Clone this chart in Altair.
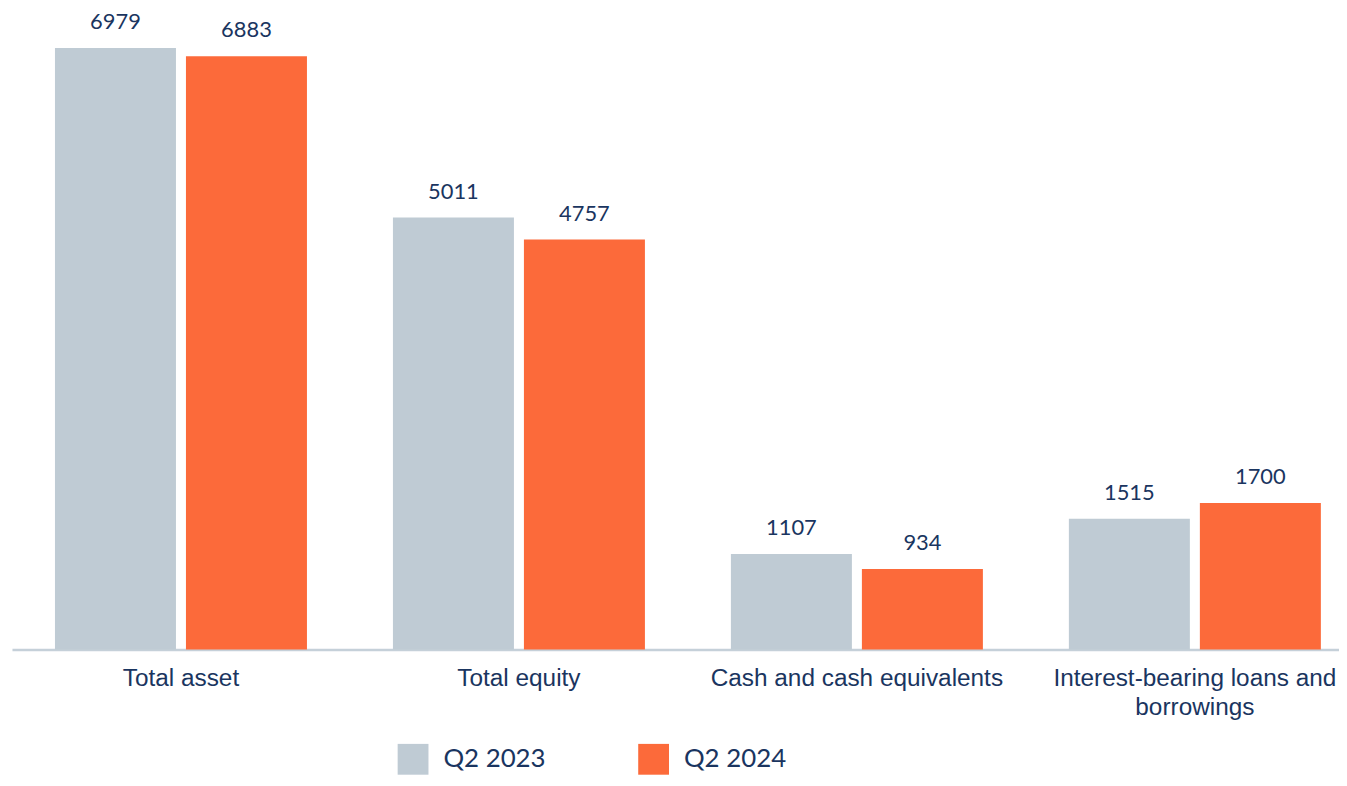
import altair as alt
import pandas as pd

categories = ["Total asset", "Total equity", "Cash and cash equivalents",
              "Interest-bearing loans and borrowings"]
series = ["Q2 2023", "Q2 2024"]
q2_2023 = [6979, 5011, 1107, 1515]
q2_2024 = [6883, 4757, 934, 1700]
colors = ["#BFCBD4", "#FC6A3A"]

rows = []
for c, a, b in zip(categories, q2_2023, q2_2024):
    rows.append({"category": c, "period": series[0], "value": a})
    rows.append({"category": c, "period": series[1], "value": b})
df = pd.DataFrame(rows)

navy = "#1A3560"

x_enc = alt.X(
    "category:N", sort=categories, title=None,
    scale=alt.Scale(range=[0, 1360], paddingInner=0.2544, paddingOuter=0.1272),
    axis=alt.Axis(
        labelAngle=0, ticks=False, labelPadding=17, domainColor="#C5D0D9",
        domainWidth=2.5, labelColor=navy, labelFont="Liberation Sans",
        labelFontSize=24.5, labelLimit=400, labelLineHeight=29,
        labelExpr="datum.label == 'Interest-bearing loans and borrowings' ? ['Interest-bearing loans and', 'borrowings'] : datum.label",
    ),
)
xo_enc = alt.XOffset("period:N", sort=series,
                     scale=alt.Scale(paddingInner=0.0763, paddingOuter=0))
y_enc = alt.Y("value:Q", scale=alt.Scale(domain=[0, 7000]), axis=None)

bars = alt.Chart(df).mark_bar().encode(
    x=x_enc, xOffset=xo_enc, y=y_enc,
    color=alt.Color(
        "period:N", sort=series,
        scale=alt.Scale(domain=series, range=colors),
        legend=alt.Legend(
            title=None, orient="none", legendX=388, legendY=702,
            direction="horizontal", symbolType="square", symbolSize=961,
            symbolStrokeWidth=0, symbolOpacity=1, labelOffset=15,
            columnPadding=93, labelFont="Lato", labelFontSize=26,
            labelColor=navy, padding=0,
        ),
    ),
)

labels = alt.Chart(df).mark_text(
    baseline="bottom", dy=-14, font="Lato", fontSize=22, color=navy
).encode(x=x_enc, xOffset=xo_enc, y=y_enc, text=alt.Text("value:Q", format="d"))

chart = (bars + labels).properties(
    width=1335, height=607,
    autosize=alt.AutoSizeParams(type="none"),
    padding={"left": 4, "top": 36, "right": 0, "bottom": 126},
).configure_view(stroke=None)

chart.save("out.html", embed_options={"renderer": "svg", "actions": False})
